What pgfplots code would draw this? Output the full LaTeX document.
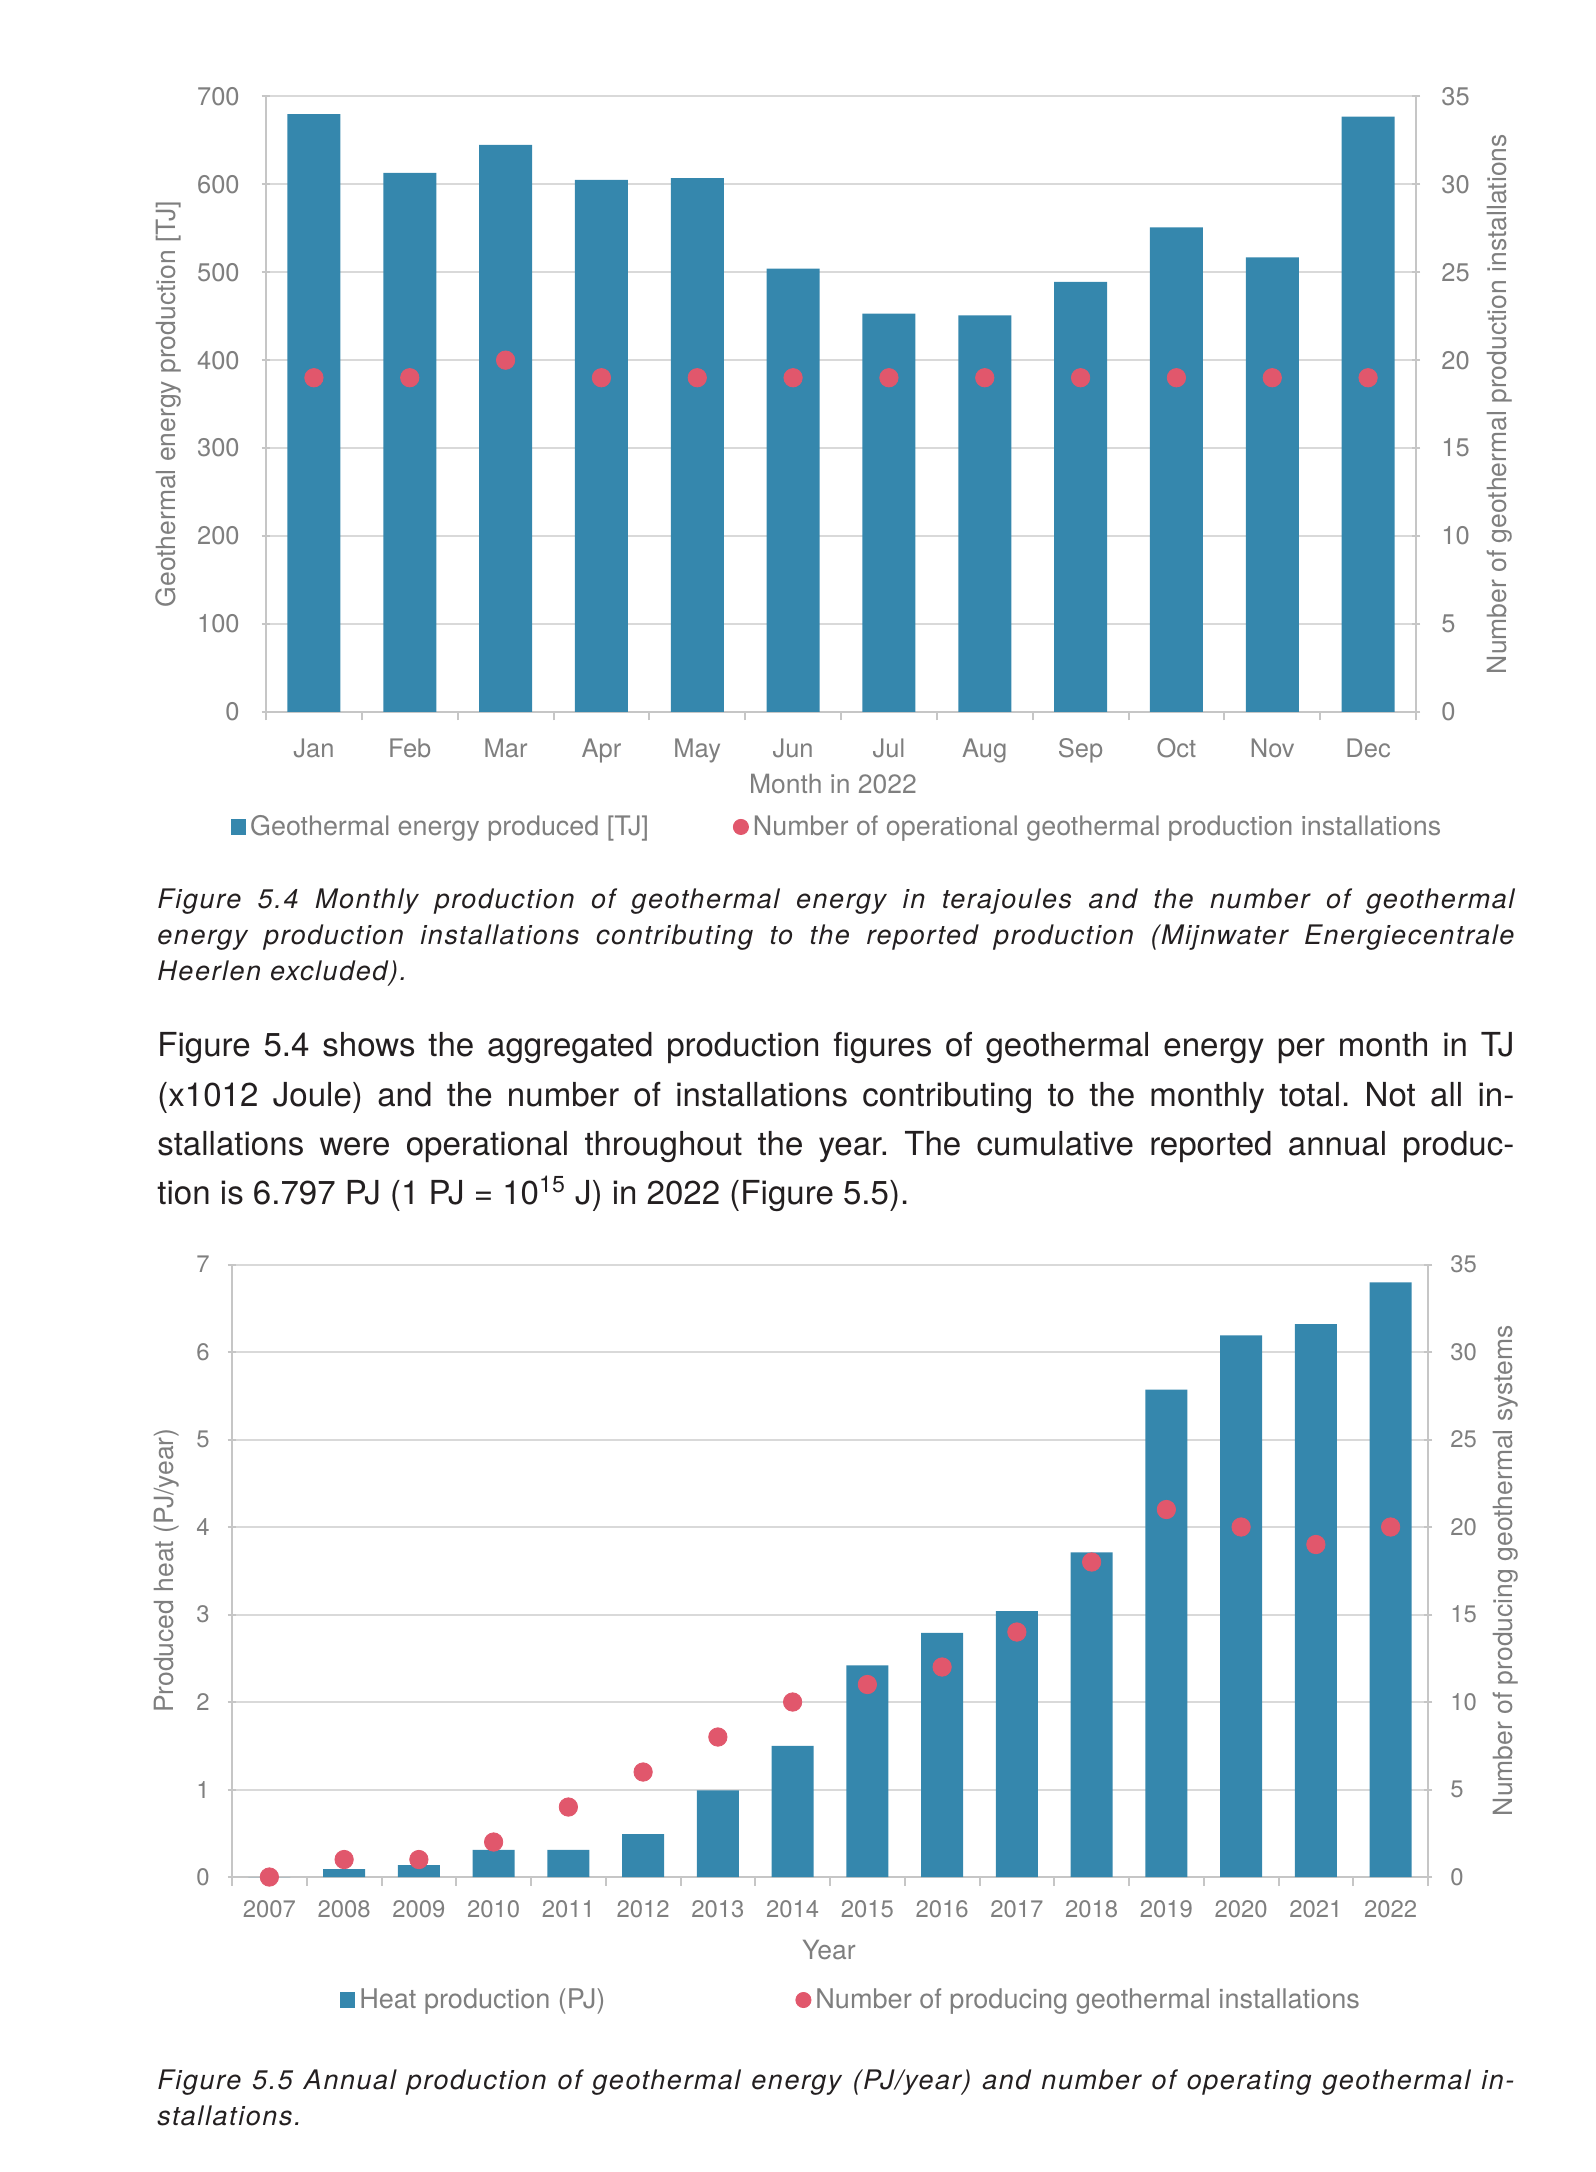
\documentclass[border=0pt]{standalone}
\usepackage{fontspec}
\setmainfont{TeX Gyre Heros}
\newfontfamily\capfont{TeX Gyre Heros}[LetterSpace=6]
\usepackage{pgfplots}
\pgfplotsset{compat=1.18}
\frenchspacing

\definecolor{barblue}{HTML}{3587AD}
\definecolor{dotred}{HTML}{E1576C}
\definecolor{gridgray}{HTML}{D9D9D9}
\definecolor{axisgray}{HTML}{C6C6C6}
\definecolor{txtgray}{HTML}{7F7F7F}
\definecolor{bodyblack}{HTML}{231F20}

\pgfplotsset{
  geo/.style={
    scale only axis,
    enlargelimits=false,
    /pgf/number format/assume math mode=true,
    tick align=outside,
    tick style={draw=axisgray, line width=1bp},
    major tick length=4.3bp,
    ticklabel style={text=txtgray},
    label style={text=txtgray},
    x tick label as interval,
  },
  nolinearrow/.style={
    axis line style={-, draw=axisgray, line width=1bp},
    every outer x axis line/.append style={-},
    every outer y axis line/.append style={-},
  },
}

\newcommand{\capline}[2]{\node[font=\fontsize{13.5}{18}\capfont\itshape] at (78.5bp,#1) {#2};}
\newcommand{\txtline}[2]{\node[font=\fontsize{16.6}{24}\selectfont] at (78.5bp,#1) {#2};}

\begin{document}
\begin{tikzpicture}
\path[use as bounding box] (0bp,0bp) rectangle (798bp,-1086bp);

% ---------- Figure 5.4 : monthly production ----------
\begin{axis}[geo,
  at={(133bp,-355.9bp)}, anchor=south west, width=575bp, height=307.7bp,
  xmin=0.5, xmax=12.5, ymin=0, ymax=700,
  axis x line=bottom, axis y line=left, nolinearrow,
  xtick={0.5,1.5,...,12.5},
  xticklabels={Jan,Feb,Mar,Apr,May,Jun,Jul,Aug,Sep,Oct,Nov,Dec},
  ytick={0,100,...,700},
  ticklabel style={font=\fontsize{12.8}{14}\selectfont},
  xticklabel style={yshift=-5.5bp},
  yticklabel style={xshift=-7.5bp},
  ymajorgrids, grid style={draw=gridgray, line width=1bp},
  ylabel={Geothermal energy production [TJ]},
  ylabel style={at={(axis description cs:-0.0852,0.5)}, anchor=center, text=txtgray, font=\fontsize{13.3}{15}\selectfont},
  xlabel={Month in 2022},
  xlabel style={at={(axis description cs:0.493,-0.1167)}, anchor=center, font=\fontsize{13.3}{15}\selectfont},
  ybar, bar width=0.553, bar shift=0pt,
]
\addplot[fill=barblue, draw=none, forget plot] coordinates {
  (1,680) (2,613) (3,645) (4,605) (5,607) (6,504)
  (7,453) (8,451) (9,489) (10,551) (11,517) (12,677)};
\end{axis}

\begin{axis}[geo,
  at={(133bp,-355.9bp)}, anchor=south west, width=575bp, height=307.7bp,
  xmin=0.5, xmax=12.5, ymin=0, ymax=35,
  axis x line=none, axis y line=right, nolinearrow,
  xtick=\empty,
  ytick={0,5,...,35},
  ticklabel style={font=\fontsize{12.8}{14}\selectfont},
  yticklabel style={xshift=7bp},
  ylabel={Number of geothermal production installations},
  ylabel style={at={(axis description cs:1.073,0.5)}, anchor=center, text=txtgray, font=\fontsize{13.3}{15}\selectfont},
  legend columns=2,
  legend cell align=left,
  legend style={at={(axis description cs:0.4975,-0.1871)}, anchor=center,
    draw=none, fill=none, text=txtgray, font=\fontsize{13.5}{15}\selectfont,
    /tikz/every even column/.append style={column sep=40bp}},
]
\addlegendimage{legend image code/.code={\fill[barblue] (0bp,-3.6bp) rectangle (7.2bp,3.6bp);}}
\addlegendentry{Geothermal energy produced [TJ]}
\addlegendimage{legend image code/.code={\fill[dotred] (3.8bp,0bp) circle (3.8bp);}}
\addlegendentry{Number of operational geothermal production installations}
\addplot[only marks, mark=*, mark size=4.6bp, mark options={draw=dotred, fill=dotred}, forget plot] coordinates {
  (1,19) (2,19) (3,20) (4,19) (5,19) (6,19)
  (7,19) (8,19) (9,19) (10,19) (11,19) (12,19)};
\end{axis}

% ---------- caption and text ----------
\begin{scope}[every node/.style={anchor=base west, inner sep=0pt, text=bodyblack}]
\capline{-454bp}{\makebox[678.5bp][s]{Figure 5.4 Monthly production of geothermal energy in terajoules and the number of geothermal}}
\capline{-472bp}{\makebox[678.5bp][s]{energy production installations contributing to the reported production (Mijnwater Energiecentrale}}
\capline{-490bp}{Heerlen excluded).}
\txtline{-528.4bp}{\makebox[678.5bp][s]{Figure 5.4 shows the aggregated production figures of geothermal energy per month in TJ}}
\txtline{-553bp}{\makebox[678.5bp][s]{(x1012 Joule) and the number of installations contributing to the monthly total. Not all in-}}
\txtline{-577.5bp}{\makebox[678.5bp][s]{stallations were operational throughout the year. The cumulative reported annual produc-}}
\txtline{-602.3bp}{tion is 6.797 PJ (1 PJ = 10\textsuperscript{15} J) in 2022 (Figure 5.5).}
\end{scope}

% ---------- Figure 5.5 : annual production ----------
\begin{axis}[geo,
  at={(116bp,-938.5bp)}, anchor=south west, width=598bp, height=306.25bp,
  xmin=0.5, xmax=16.5, ymin=0, ymax=7,
  axis x line=bottom, axis y line=left, nolinearrow,
  xtick={0.5,1.5,...,16.5},
  xticklabels={2007,2008,2009,2010,2011,2012,2013,2014,2015,2016,2017,2018,2019,2020,2021,2022},
  ytick={0,1,...,7},
  ticklabel style={font=\fontsize{12}{14}\selectfont},
  xticklabel style={yshift=-4bp},
  yticklabel style={xshift=-5.5bp},
  ymajorgrids, grid style={draw=gridgray, line width=1bp},
  ylabel={Produced heat (PJ/year)},
  ylabel style={at={(axis description cs:-0.0543,0.5)}, anchor=center, text=txtgray, font=\fontsize{13.3}{15}\selectfont},
  xlabel={Year},
  xlabel style={at={(axis description cs:0.499,-0.1192)}, anchor=center, font=\fontsize{13.3}{15}\selectfont},
  ybar, bar width=0.56, bar shift=0pt,
]
\addplot[fill=barblue, draw=none, forget plot] coordinates {
  (1,0) (2,0.09) (3,0.135) (4,0.31) (5,0.31) (6,0.49) (7,0.99) (8,1.50)
  (9,2.42) (10,2.79) (11,3.04) (12,3.71) (13,5.57) (14,6.19) (15,6.32) (16,6.797)};
\end{axis}

\begin{axis}[geo,
  at={(116bp,-938.5bp)}, anchor=south west, width=598bp, height=306.25bp,
  xmin=0.5, xmax=16.5, ymin=0, ymax=35,
  axis x line=none, axis y line=right, nolinearrow,
  xtick=\empty,
  ytick={0,5,...,35},
  ticklabel style={font=\fontsize{12}{14}\selectfont},
  yticklabel style={xshift=5.5bp},
  ylabel={Number of producing geothermal systems},
  ylabel style={at={(axis description cs:1.0649,0.5)}, anchor=center, text=txtgray, font=\fontsize{13.3}{15}\selectfont},
  legend columns=2,
  legend cell align=left,
  legend style={at={(axis description cs:0.5184,-0.2008)}, anchor=center,
    draw=none, fill=none, text=txtgray, font=\fontsize{13.6}{15}\selectfont,
    /tikz/every even column/.append style={column sep=93bp}},
]
\addlegendimage{legend image code/.code={\fill[barblue] (0bp,-3.6bp) rectangle (7.2bp,3.6bp);}}
\addlegendentry{Heat production (PJ)}
\addlegendimage{legend image code/.code={\fill[dotred] (3.8bp,0bp) circle (3.8bp);}}
\addlegendentry{Number of producing geothermal installations}
\addplot[only marks, mark=*, mark size=4.6bp, mark options={draw=dotred, fill=dotred}, forget plot] coordinates {
  (1,0) (2,1) (3,1) (4,2) (5,4) (6,6) (7,8) (8,10)
  (9,11) (10,12) (11,14) (12,18) (13,21) (14,20) (15,19) (16,20)};
\end{axis}

\begin{scope}[every node/.style={anchor=base west, inner sep=0pt, text=bodyblack}]
\capline{-1044.5bp}{\makebox[678.5bp][s]{Figure 5.5 Annual production of geothermal energy (PJ/year) and number of operating geothermal in-}}
\capline{-1062.5bp}{stallations.}
\end{scope}
\end{tikzpicture}
\end{document}
